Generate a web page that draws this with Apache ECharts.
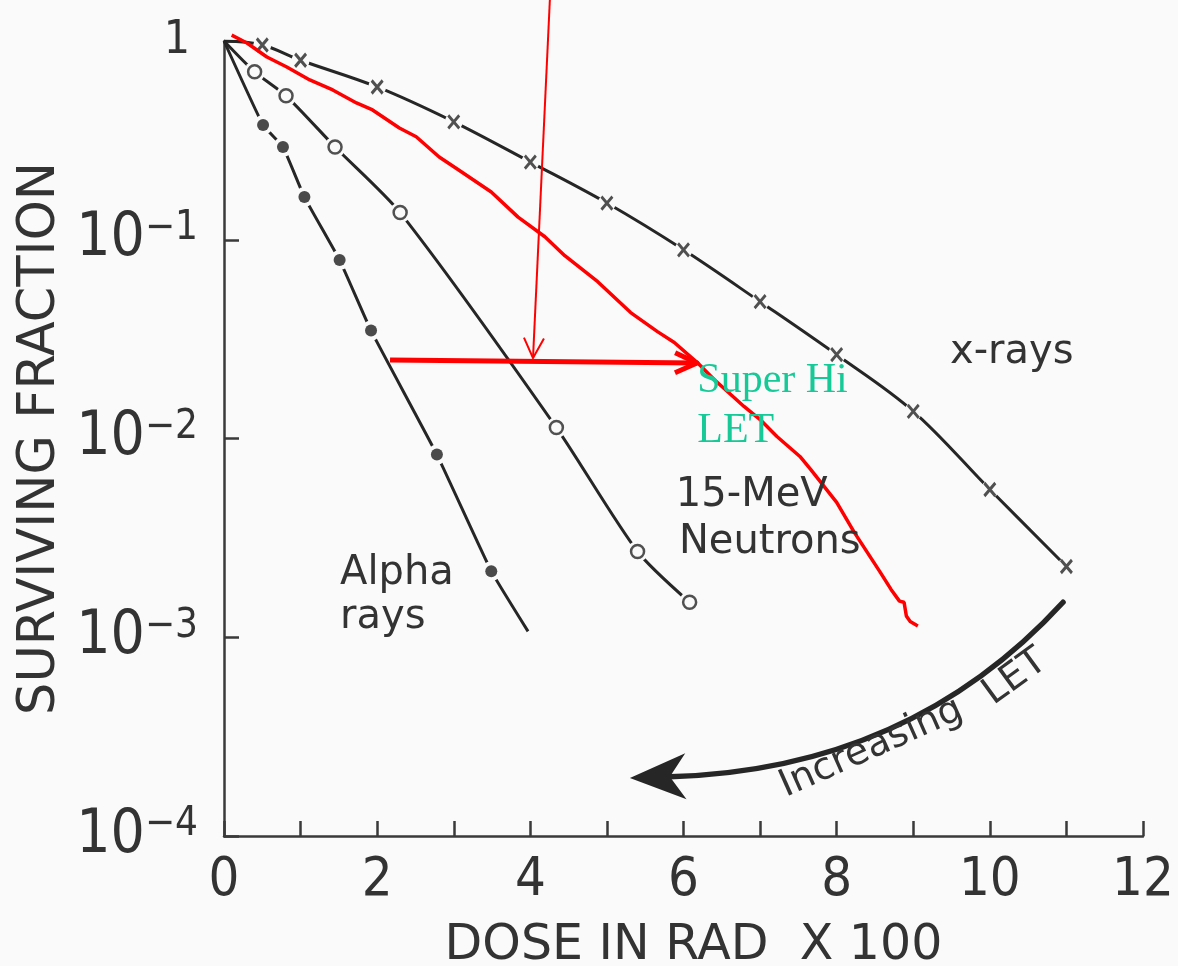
<!DOCTYPE html>
<html>
<head>
<meta charset="utf-8">
<title>Surviving fraction vs dose</title>
<script src="https://cdn.jsdelivr.net/npm/echarts@6/dist/echarts.min.js"></script>
<style>
  html, body { margin: 0; padding: 0; background: #fafafa; }
  #chart { width: 1178px; height: 966px; }
</style>
</head>
<body>
<div id="chart"></div>
<script>
// dose in rad x 100 / surviving fraction
const xrayDose = [0, 0.5, 1, 2, 3, 4, 5, 6, 7, 8, 9, 10, 11];
const xraySurv = [1, 0.955, 0.80, 0.587, 0.392, 0.246, 0.153, 0.089, 0.0488, 0.0264, 0.0137, 0.00554, 0.00227];

const neutronDose = [0, 0.40, 0.81, 1.45, 2.30, 4.34, 5.40, 6.08];
const neutronSurv = [1, 0.70, 0.53, 0.293, 0.137, 0.01135, 0.0027, 0.0015];

// last alpha point is just the end of the line, no marker
const alphaDose = [0, 0.51, 0.77, 1.05, 1.51, 1.92, 2.78, 3.49, 3.97];
const alphaSurv = [1, 0.378, 0.293, 0.164, 0.079, 0.0349, 0.0083, 0.00215, 0.00107];

// the red hand drawn "Super Hi LET" curve
const superDose = [0.10, 0.30, 0.56, 0.82, 1.12, 1.42, 1.73, 1.94, 2.29, 2.51, 2.81, 3.06, 3.49, 3.84, 4.19,
  4.45, 4.88, 5.31, 5.66, 5.88, 6.18, 6.40, 6.79, 7.00, 7.22, 7.52, 7.66, 8.00, 8.23, 8.57, 8.71, 8.82, 8.88,
  8.91, 8.96, 9.06];
const superSurv = [1.07, 0.977, 0.831, 0.740, 0.637, 0.567, 0.488, 0.450, 0.365, 0.330, 0.261, 0.225, 0.174,
  0.130, 0.1035, 0.0831, 0.0615, 0.0430, 0.0345, 0.0304, 0.0241, 0.0198, 0.0145, 0.01245, 0.01023, 0.00812,
  0.00699, 0.00477, 0.00337, 0.00212, 0.00174, 0.00152, 0.00150, 0.00128, 0.00120, 0.00114];

const xTickLabels = ['0', '2', '4', '6', '8', '10', '12'];
const yTickLabels = ['{b|10}{s|\u22124}', '{b|10}{s|\u22123}', '{b|10}{s|\u22122}', '{b|10}{s|\u22121}', '{o|1}'];

const ink = '#262626';
const paper = '#fafafa';
const sans = "'DejaVu Sans', sans-serif";
const narrow = "'DejaVu Sans Condensed', 'Liberation Sans Narrow', 'DejaVu Sans', sans-serif";

const pairs = (xs, ys) => xs.map((x, i) => [x, ys[i]]);

const chart = echarts.init(document.getElementById('chart'));

// line with halos where the markers sit, so the line looks broken there
function curve(xs, ys, halo, smooth, skipLast) {
  return {
    type: 'line',
    data: pairs(xs, ys),
    smooth: smooth,
    lineStyle: { color: ink, width: 3 },
    symbol: (v, p) => (p.dataIndex === 0 || (skipLast && p.dataIndex === xs.length - 1)) ? 'none' : 'circle',
    symbolSize: halo,
    itemStyle: { color: paper, borderWidth: 0 },
    z: 2
  };
}

const option = {
  backgroundColor: paper,
  animation: false,
  grid: { left: 224, right: 35, top: 41, bottom: 130, containLabel: false, outerBoundsMode: 'none' },
  xAxis: {
    type: 'value',
    min: 0,
    max: 12,
    interval: 1,
    name: 'DOSE IN RAD  X 100',
    nameLocation: 'middle',
    nameGap: 86,
    nameMoveOverlap: false,
    nameTextStyle: { fontSize: 49, fontFamily: sans, color: '#333', padding: [0, 0, 0, 20] },
    axisLine: { onZero: false, lineStyle: { color: '#3a3a3a', width: 2.5 } },
    axisTick: { inside: true, length: 15, lineStyle: { color: '#3a3a3a', width: 2.5 } },
    splitLine: { show: false },
    axisLabel: {
      margin: 18,
      fontSize: 54,
      fontFamily: narrow,
      color: '#333',
      formatter: v => (v % 2 === 0 ? xTickLabels[v / 2] : '')
    }
  },
  yAxis: {
    type: 'log',
    logBase: 10,
    min: 0.0001,
    max: 1,
    name: 'SURVIVING FRACTION',
    nameLocation: 'middle',
    nameRotate: 90,
    nameGap: 158,
    nameMoveOverlap: false,
    nameTextStyle: { fontSize: 51, fontFamily: sans, color: '#333' },
    axisLine: { lineStyle: { color: '#3a3a3a', width: 2.5 } },
    axisTick: { inside: true, length: 15, lineStyle: { color: '#3a3a3a', width: 2.5 } },
    splitLine: { show: false },
    axisLabel: {
      margin: 26,
      formatter: v => yTickLabels[Math.round(Math.log10(v)) + 4],
      rich: {
        b: { fontSize: 60, lineHeight: 62, fontFamily: narrow, color: '#333' },
        s: { fontSize: 40, lineHeight: 34, verticalAlign: 'top', fontFamily: narrow, color: '#333' },
        o: { fontSize: 46, fontFamily: narrow, color: '#333', padding: [0, 8, 0, 0] }
      }
    }
  },
  series: [
    curve(xrayDose, xraySurv, 18, 0.35, false),
    {
      type: 'scatter',
      data: pairs(xrayDose.slice(1), xraySurv.slice(1)),
      symbol: 'path://M0 0L10 11M10 0L0 11',
      symbolSize: [11, 13],
      itemStyle: { color: 'transparent', borderColor: ink, borderWidth: 3 },
      z: 3
    },
    curve(neutronDose, neutronSurv, 21, 0.25, false),
    {
      type: 'scatter',
      data: pairs(neutronDose.slice(1), neutronSurv.slice(1)),
      symbol: 'circle',
      symbolSize: 13,
      itemStyle: { color: paper, borderColor: ink, borderWidth: 2.5 },
      z: 3
    },
    curve(alphaDose, alphaSurv, 20, 0.12, true),
    {
      type: 'scatter',
      data: pairs(alphaDose.slice(1, -1), alphaSurv.slice(1, -1)),
      symbol: 'circle',
      symbolSize: 12,
      itemStyle: { color: '#1e1e1e' },
      z: 3
    },
    {
      type: 'line',
      data: pairs(superDose, superSurv),
      clip: false,
      symbol: 'none',
      lineStyle: { color: '#ff0000', width: 3.5 },
      z: 4
    }
  ]
};

chart.setOption(option);

// annotations, anchored in data space
const curveLabels = [
  { text: 'Alpha', dose: 1.515, surv: 0.00209 },
  { text: 'rays', dose: 1.515, surv: 0.00125 },
  { text: '15-MeV', dose: 5.90, surv: 0.00514 },
  { text: 'Neutrons', dose: 5.94, surv: 0.00298 },
  { text: 'x-rays', dose: 9.48, surv: 0.0269 }
];
const superLabels = [
  { text: 'Super Hi', dose: 6.18, surv: 0.01946 },
  { text: 'LET', dose: 6.18, surv: 0.01091 }
];
const letLabels = [
  { text: 'Increasing', dose: 7.352, surv: 0.000152, angle: 24 },
  { text: 'LET', dose: 10.07, surv: 0.000440, angle: 36 }
];
const pointerArrow = { from: [4.255, 1.608], to: [4.035, 0.0254] };
const redArrow = { from: [2.168, 0.0248], to: [6.177, 0.0240] };
const letArrow = { from: [10.956, 0.00150], ctrl: [8.95, 0.000215], to: [5.30, 0.000196] };

const px = (d, f) => chart.convertToPixel({ gridIndex: 0 }, [d, f]);

function openArrow(a, b, width, len, spread, color) {
  const pa = px(a[0], a[1]);
  const pb = px(b[0], b[1]);
  const dx = pb[0] - pa[0], dy = pb[1] - pa[1];
  const n = Math.hypot(dx, dy);
  const ux = dx / n, uy = dy / n;
  const bx = pb[0] - ux * len, by = pb[1] - uy * len;
  return [
    { type: 'line', z: 20, shape: { x1: pa[0], y1: pa[1], x2: pb[0], y2: pb[1] },
      style: { stroke: color, lineWidth: width } },
    { type: 'polyline', z: 20,
      shape: { points: [[bx - uy * spread, by + ux * spread], pb, [bx + uy * spread, by - ux * spread]] },
      style: { stroke: color, lineWidth: width, fill: null, lineJoin: 'round' } }
  ];
}

const g = [];

curveLabels.forEach(l => {
  const p = px(l.dose, l.surv);
  g.push({ type: 'text', x: p[0], y: p[1], z: 20,
    style: { text: l.text, font: '40px ' + sans, fill: '#333', align: 'left', verticalAlign: 'middle' } });
});

superLabels.forEach(l => {
  const p = px(l.dose, l.surv);
  g.push({ type: 'text', x: p[0], y: p[1], z: 20,
    style: { text: l.text, font: "42px 'Liberation Serif', serif", fill: '#17c997', align: 'left', verticalAlign: 'middle' } });
});

g.push(...openArrow(pointerArrow.from, pointerArrow.to, 2, 20, 10, '#ff0000'));
g.push(...openArrow(redArrow.from, redArrow.to, 5, 22, 10, '#ff0000'));

// curved "Increasing LET" arrow
{
  const s = px(letArrow.from[0], letArrow.from[1]);
  const c = px(letArrow.ctrl[0], letArrow.ctrl[1]);
  const t = px(letArrow.to[0], letArrow.to[1]);
  const dx = t[0] - c[0], dy = t[1] - c[1];
  const n = Math.hypot(dx, dy);
  const ux = dx / n, uy = dy / n;
  const L = 56, W = 23, N = 40;
  const back = [t[0] - ux * N, t[1] - uy * N];
  g.push({ type: 'bezierCurve', z: 20,
    shape: { x1: s[0], y1: s[1], cpx1: c[0], cpy1: c[1], x2: back[0], y2: back[1] },
    style: { stroke: '#262626', lineWidth: 5.5, fill: null, lineCap: 'round' } });
  g.push({ type: 'polygon', z: 21,
    shape: { points: [
      t,
      [t[0] - ux * L - uy * W, t[1] - uy * L + ux * W],
      back,
      [t[0] - ux * L + uy * W, t[1] - uy * L - ux * W]
    ] },
    style: { fill: '#262626' } });
}

letLabels.forEach(l => {
  const p = px(l.dose, l.surv);
  const a = l.angle * Math.PI / 180;
  // shift from baseline start to the middle of the letters
  const x = p[0] - Math.sin(a) * 13;
  const y = p[1] - Math.cos(a) * 13;
  g.push({ type: 'text', x: x, y: y, rotation: a, z: 20,
    style: { text: l.text, font: '38px ' + sans, fill: '#333', align: 'left', verticalAlign: 'middle' } });
});

chart.setOption({ graphic: g });

window.addEventListener('resize', () => chart.resize());
</script>
</body>
</html>
